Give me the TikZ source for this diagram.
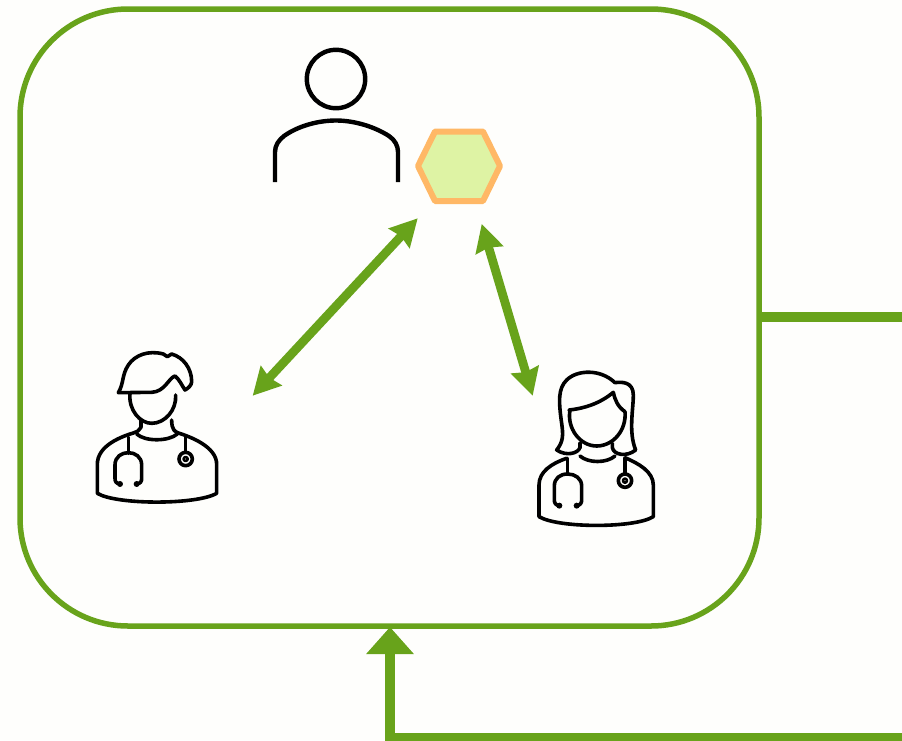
\documentclass[tikz,border=0pt]{standalone}
\usetikzlibrary{arrows.meta}
\definecolor{grn}{HTML}{68A31B}
\definecolor{bgc}{HTML}{FEFEFC}
\definecolor{hexline}{HTML}{FFB866}
\definecolor{hexfill}{HTML}{DEF3A4}
\tikzset{
 frame/.style={draw=grn,line width=5.5pt,rounded corners=108pt,minimum width=739pt,minimum height=617pt,inner sep=0pt,outer sep=0pt,anchor=north west},
 flow/.style={draw=grn,line width=9.5pt},
 link/.style={draw=grn,line width=8.8pt,{Stealth[length=27pt,width=28pt,inset=2.5pt]}-{Stealth[length=27pt,width=28pt,inset=2.5pt]}},
 ink/.style={draw=black,line width=3.6pt,line cap=round,line join=round},
 zoomed/.style={x=0.3333pt,y=-0.3333pt},
}
\begin{document}
\begin{tikzpicture}[x=1pt,y=-1pt]
\useasboundingbox (0,0) rectangle (902,740);
\clip (0,0) rectangle (902,740);
\fill[bgc] (0,0) rectangle (902,740);
\node[frame] (box) at (20,9) {};
% person
\draw[ink,line width=4.4pt] (336,79) circle[radius=29.2pt];
\draw[ink,line width=4.4pt,line cap=butt] (275,182) -- (275,152) .. controls (275,145) and (279,140) .. (284,136) .. controls (298,126) and (318,120.5) .. (336,120.5) .. controls (355,120.5) and (375,127) .. (389,136) .. controls (395,140) and (398,146) .. (398,152) -- (398,182);
% hexagon
\draw[draw=hexline,fill=hexfill,line width=6pt,line join=round] (418,166) -- (435,131.5) -- (483,131.5) -- (500,166) -- (483,201) -- (435,201) -- cycle;
% arrows
\coordinate (a1) at (252.7,395.7);
\coordinate (a2) at (417.7,218.3);
\coordinate (b1) at (481.7,224);
\coordinate (b2) at (532.7,395.7);
\path[link] (a1) -- (a2);
\path[link] (b1) -- (b2);
% connectors
\coordinate (outR) at (902,317);
\coordinate (inR) at (902,738);
\coordinate (inC) at (390,738);
\coordinate (inT) at (390,627);
\path[flow] (760,317) -- (outR);
\path[flow,line cap=butt,-{Triangle[length=27pt,width=46pt]}] (inR) -- (inC) -- (inT);
% male doctor
\begin{scope}[shift={(80,340)},zoomed]
\draw[ink] (115,158) .. controls (132,130) and (125,105) .. (145,75) .. controls (165,45) and (205,30) .. (250,42) -- (262,50) -- (275,42) .. controls (310,52) and (335,85) .. (335,125) .. controls (335,135) and (325,145) .. (315,150) .. controls (305,135) and (298,118) .. (285,108) .. controls (265,115) and (255,155) .. (215,157) -- cycle;
\draw[ink] (150,160) .. controls (145,210) and (180,250) .. (215,250) .. controls (255,250) and (290,210) .. (287,165);
\draw[ink] (183,240) -- (183,262) .. controls (180,272) and (170,275) .. (160,279) .. controls (130,288) and (50,315) .. (52,375) -- (52,460) .. controls (110,495) and (350,495) .. (410,460) -- (410,375) .. controls (412,320) and (330,290) .. (295,279) .. controls (285,275) and (275,270) .. (275,240);
\draw[ink] (170,282) .. controls (195,305) and (265,305) .. (292,282);
\draw[ink] (145,292) -- (145,340);
\draw[ink] (120,432) .. controls (108,430) and (105,425) .. (105,415) -- (105,375) .. controls (105,350) and (125,338) .. (145,338) .. controls (165,338) and (185,350) .. (185,375) -- (185,415) .. controls (185,425) and (182,430) .. (170,432);
\fill (120,432) circle[radius=9];
\fill (170,432) circle[radius=9];
\draw[ink] (317,292) -- (317,335);
\draw[ink] (317,357) circle[radius=20];
\draw[ink,line width=2.6pt] (317,357) circle[radius=6];
\end{scope}
% female doctor
\begin{scope}[shift={(525,360)},zoomed]
\draw[ink] (165,262) .. controls (160,280) and (125,290) .. (95,270) .. controls (115,245) and (115,225) .. (110,190) .. controls (100,120) and (100,85) .. (125,60) .. controls (155,30) and (225,25) .. (270,68) .. controls (290,65) and (325,65) .. (325,105) .. controls (325,150) and (310,215) .. (332,270) .. controls (305,292) and (265,285) .. (262,262) -- (262,250);
\draw[ink] (132,150) .. controls (180,145) and (225,130) .. (265,97) .. controls (270,120) and (278,140) .. (300,155);
\draw[ink] (135,150) .. controls (125,205) and (165,258) .. (215,258) .. controls (265,258) and (305,210) .. (300,155);
\draw[ink] (165,262) -- (165,250);
\draw[ink] (125,295) .. controls (80,310) and (42,335) .. (42,375) -- (42,470) .. controls (100,505) and (330,505) .. (385,470) -- (385,375) .. controls (385,335) and (340,310) .. (300,293);
\draw[ink] (165,288) .. controls (190,310) and (245,310) .. (270,288);
\draw[ink] (128,295) -- (128,340);
\draw[ink] (103,437) .. controls (92,435) and (88,430) .. (88,420) -- (88,378) .. controls (88,355) and (105,342) .. (128,342) .. controls (150,342) and (170,355) .. (170,378) -- (170,420) .. controls (170,430) and (166,435) .. (155,437);
\fill (103,437) circle[radius=9];
\fill (155,437) circle[radius=9];
\draw[ink] (300,295) -- (300,340);
\draw[ink] (300,362) circle[radius=20];
\draw[ink,line width=2.6pt] (300,362) circle[radius=6];
\end{scope}
\end{tikzpicture}
\end{document}
